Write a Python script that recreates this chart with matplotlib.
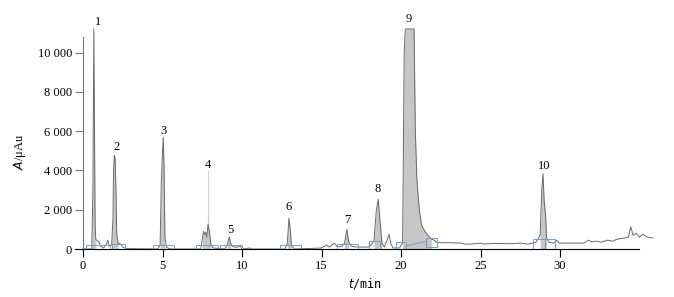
import numpy as np
import matplotlib.pyplot as plt
from matplotlib.patches import Rectangle

# chromatogram trace (t in min, A in uAu)
t = [0.0, 0.55, 0.62, 0.68, 0.72, 0.76, 0.8, 0.9, 1.0, 1.1, 1.3, 1.5, 1.55, 1.65, 1.8,
     1.88, 1.92, 1.97, 2.02, 2.07, 2.12, 2.2, 2.35, 2.5, 2.7, 4.7, 4.85, 4.92, 5.0, 5.05,
     5.1, 5.15, 5.25, 5.5, 7.4, 7.5, 7.58, 7.65, 7.72, 7.78, 7.86, 7.95, 8.05, 8.2, 8.9,
     9.0, 9.1, 9.2, 9.28, 9.4, 9.6, 9.9, 10.0, 10.5, 10.6, 12.7, 12.85, 12.95, 13.05, 13.1,
     13.3, 15.0, 15.3, 15.5, 15.8, 16.0, 16.3, 16.45, 16.6, 16.7, 16.85, 17.2, 18.0, 18.3,
     18.45, 18.57, 18.67, 18.8, 18.95, 19.1, 19.25, 19.35, 19.5, 19.9, 20.1, 20.2, 20.27,
     20.82, 20.9, 21.0, 21.15, 21.3, 21.5, 21.7, 21.9, 22.1, 22.2, 22.5, 23.0, 23.8, 24.0,
     24.4, 25.0, 25.2, 25.5, 26.0, 27.0, 27.5, 28.0, 28.5, 28.75, 28.85, 28.93, 29.0, 29.1,
     29.15, 29.3, 29.6, 29.8, 29.95, 30.5, 31.5, 31.8, 32.0, 32.3, 32.6, 33.0, 33.3, 33.6,
     34.0, 34.3, 34.45, 34.6, 34.8, 35.0, 35.2, 35.5, 35.85]
A = [0, 0, 3000, 11200, 6000, 1200, 500, 400, 350, 150, 50, 300, 450, 150, 200,
     1500, 4000, 4750, 4600, 3000, 800, 300, 250, 100, 20, 0, 200, 3300, 5000, 5680,
     4000, 600, 80, 0, 0, 500, 900, 750, 850, 600, 1270, 900, 200, 50, 0,
     100, 300, 610, 300, 150, 80, 150, 0, 50, 0, 0, 300, 1570, 900, 200,
     0, 50, 200, 100, 300, 100, 150, 300, 1000, 400, 150, 100, 100, 400,
     2000, 2530, 1500, 300, 100, 400, 750, 300, 50, 50, 300, 10000, 11200,
     11200, 6000, 3500, 2000, 1200, 900, 700, 500, 450, 350, 320, 320, 300, 250,
     250, 300, 250, 270, 280, 270, 300, 250, 350, 700, 3000, 3820, 2500, 1640,
     600, 350, 300, 450, 300, 300, 300, 450, 350, 400, 350, 450, 400, 500,
     550, 600, 1130, 700, 800, 600, 750, 600, 560]

# shaded (integrated) peak windows
peak_start = [0.55, 1.8, 4.85, 7.45, 9.05, 12.8, 16.45, 18.3, 20.1, 28.75]
peak_end = [0.8, 2.2, 5.2, 8.1, 9.35, 13.15, 16.75, 18.8, 22.0, 29.2]

# peak labels
labels = ['1', '2', '3', '4', '5', '6', '7', '8', '9', '10']
label_t = [0.95, 2.08, 5.03, 7.86, 9.25, 12.96, 16.6, 18.55, 20.5, 29.0]
label_A = [11550, 5190, 6000, 4270, 970, 2140, 1480, 3050, 11700, 4220]

# integration boxes (start, end, bottom, top)
box_start = [0.2, 1.83, 4.4, 7.1, 8.6, 12.4, 16.0, 18.0, 19.7, 21.55, 28.3, 29.05]
box_end = [1.7, 2.64, 5.7, 8.5, 10.0, 13.7, 17.3, 18.7, 20.3, 22.25, 29.05, 29.7]
box_bottom = [0, 0, 0, 0, 0, 0, 0, 0, 0, 100, 0, 0]
box_top = [200, 250, 200, 200, 200, 200, 250, 400, 370, 580, 490, 490]

spike4_t = 7.86
spike4_A = 4000

fig = plt.figure(figsize=(6.74, 2.97), dpi=100)
ax = fig.add_axes([0.1114, 0.1616, 0.861, 0.7475])

t_arr = np.array(t)
A_arr = np.array(A)
for s, e in zip(peak_start, peak_end):
    m = (t_arr >= s) & (t_arr <= e)
    ax.fill_between(t_arr[m], 0, A_arr[m], color='#c6c6c6', lw=0)

ax.vlines(spike4_t, 1270, spike4_A, color='#d0d0d0', lw=0.8)
ax.plot(t, A, color='#6a6a6a', lw=0.7)

for s, e, b, h in zip(box_start, box_end, box_bottom, box_top):
    ax.add_patch(Rectangle((s, b), e - s, h - b, fill=False, ec='#6f9fd0',
                           lw=0.7, zorder=3))
ax.plot([20.3, 21.6], [150, 400], color='#6f9fd0', lw=0.7, zorder=3)

for lab, lt, la in zip(labels, label_t, label_A):
    ax.text(lt, la, lab, ha='center', va='center', fontsize=9,
            family='Liberation Serif', clip_on=False)

ax.set_xlim(-0.5, 36)
ax.set_ylim(0, 11300)
ax.spines['top'].set_visible(False)
ax.spines['right'].set_visible(False)
ax.spines['left'].set_position(('data', 0))
ax.spines['left'].set_bounds(0, 10800)
ax.spines['left'].set_color('#777777')
ax.spines['bottom'].set_bounds(-0.5, 35)
ax.spines['left'].set_linewidth(0.8)
ax.spines['bottom'].set_linewidth(0.8)

ax.set_xticks([0, 5, 10, 15, 20, 25, 30])
ax.set_yticks([0, 2000, 4000, 6000, 8000, 10000])
ax.set_yticklabels(['0', '2 000', '4 000', '6 000', '8 000', '10 000'])
ax.tick_params(axis='both', labelsize=9, length=6, width=0.8, pad=2)
ax.tick_params(axis='y', color='#777777')
for lab in ax.get_xticklabels() + ax.get_yticklabels():
    lab.set_family('Liberation Serif')

ax.set_xlabel(r'$t$/min', fontsize=8.5, family='DejaVu Sans Mono', labelpad=3)
ax.set_ylabel(r'$A$/μAu', fontsize=9, family='Liberation Serif')
ax.yaxis.set_label_coords(-0.081, 0.437)

fig.savefig('out.png', dpi=100)
